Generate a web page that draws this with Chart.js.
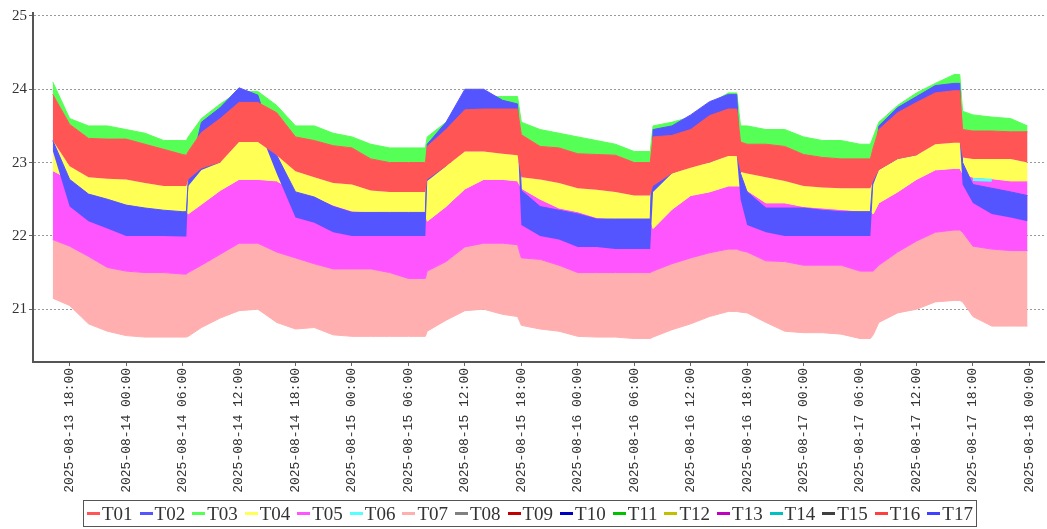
<!DOCTYPE html>
<html>
<head>
<meta charset="utf-8">
<script src="https://cdn.jsdelivr.net/npm/chart.js@4.4.1/dist/chart.umd.min.js"></script>
<style>
  body { margin: 0; background: #fff; }
  #wrap { position: relative; width: 1047px; height: 529px; }
  #legend {
    position: absolute; left: 83px; top: 500px; width: 894px; height: 27px;
    box-sizing: border-box; border: 1px solid #555;
    display: flex; justify-content: space-between; align-items: center;
    padding: 0 3px; font-family: 'Liberation Serif', serif; font-size: 19px; color: #333;
  }
  .item { display: flex; align-items: center; }
  .swatch { display: inline-block; width: 13px; height: 3px; margin-right: 2px; }
</style>
</head>
<body>
<div id="wrap">
  <canvas id="chart"></canvas>
  <div id="legend"></div>
</div>
<script>
// hours counted from 2025-08-13 00:00 (extra points around the heating switches)
const hours = [16.2, 18, 20, 22, 24, 26, 28, 30, 30.4, 30.6,
  32, 34, 36, 38, 40, 42, 44, 46, 48, 50, 52, 54, 55.8,
  56, 58, 60, 62, 64, 65.6,
  66, 68, 70, 72, 74, 76, 78, 79.7,
  80, 82, 84, 86, 88, 88.9, 89.3,
  90, 92, 94, 96, 98, 100, 102, 103.1, 103.4,
  104, 106, 108, 110, 112, 112.6, 112.9,
  114, 116, 118, 119.8];

const xTickHours = [18, 24, 30, 36, 42, 48, 54, 60, 66, 72, 78, 84, 90, 96, 102, 108, 114, 120];
const xTickLabels = ['2025-08-13 18:00', '2025-08-14 00:00', '2025-08-14 06:00', '2025-08-14 12:00',
  '2025-08-14 18:00', '2025-08-15 00:00', '2025-08-15 06:00', '2025-08-15 12:00', '2025-08-15 18:00',
  '2025-08-16 00:00', '2025-08-16 06:00', '2025-08-16 12:00', '2025-08-16 18:00', '2025-08-17 00:00',
  '2025-08-17 06:00', '2025-08-17 12:00', '2025-08-17 18:00', '2025-08-18 00:00'];
const yTicks = [21, 22, 23, 24, 25];

const seriesNames = ['T01', 'T02', 'T03', 'T04', 'T05', 'T06', 'T07', 'T08', 'T09', 'T10',
  'T11', 'T12', 'T13', 'T14', 'T15', 'T16', 'T17'];
const seriesColors = ['#ff5555', '#5555ff', '#55ff55', '#ffff55', '#ff55ff', '#55ffff', '#ffafaf', '#808080', '#c00000', '#0000c0',
  '#00c000', '#c0c000', '#c000c0', '#00c0c0', '#404040', '#ff4040', '#4040ff'];

// each sensor swings fast between a low and a high value, so it shows as a band
const t01Top = [23.93, 23.52, 23.33, 23.32, 23.32, 23.25, 23.18, 23.11, 23.1, 23.15,
  23.41, 23.6, 23.82, 23.82, 23.68, 23.35, 23.3, 23.23, 23.2, 23.05, 23.0, 23.0, 23.0,
  23.22, 23.45, 23.72, 23.73, 23.73, 23.73,
  23.38, 23.22, 23.2, 23.12, 23.11, 23.1, 23.0, 23.0,
  23.35, 23.37, 23.45, 23.64, 23.73, 23.73, 23.28,
  23.25, 23.25, 23.22, 23.11, 23.07, 23.05, 23.05, 23.05, 23.2,
  23.45, 23.68, 23.82, 23.95, 23.98, 23.98, 23.45,
  23.43, 23.43, 23.42, 23.42];
const t01Bottom = [23.3, 22.95, 22.8, 22.78, 22.77, 22.72, 22.68, 22.68, 22.68, 22.77,
  22.92, 23.0, 23.28, 23.28, 23.1, 22.88, 22.8, 22.72, 22.7, 22.62, 22.6, 22.6, 22.6,
  22.77, 22.95, 23.15, 23.15, 23.12, 23.1,
  22.8, 22.77, 22.72, 22.65, 22.63, 22.6, 22.55, 22.55,
  22.68, 22.85, 22.93, 23.0, 23.09, 23.09, 22.87,
  22.85, 22.8, 22.75, 22.68, 22.66, 22.65, 22.65, 22.65, 22.75,
  22.9, 23.05, 23.1, 23.25, 23.27, 23.27, 23.07,
  23.05, 23.05, 23.05, 23.0];
const t02Top = [23.3, 22.77, 22.57, 22.5, 22.42, 22.38, 22.35, 22.33, 22.33, 22.77,
  23.55, 23.75, 24.02, 23.92, 23.1, 22.6, 22.53, 22.4, 22.32, 22.32, 22.32, 22.32, 22.32,
  23.25, 23.55, 24.0, 24.0, 23.85, 23.8,
  22.62, 22.4, 22.35, 22.3, 22.23, 22.23, 22.23, 22.23,
  23.45, 23.5, 23.65, 23.83, 23.93, 23.93, 22.85,
  22.6, 22.38, 22.38, 22.38, 22.35, 22.33, 22.33, 22.33, 22.85,
  23.5, 23.75, 23.9, 24.05, 24.08, 24.08, 23.0,
  22.7, 22.65, 22.6, 22.55];
const t02Bottom = [23.16, 22.4, 22.2, 22.1, 22.0, 22.0, 22.0, 21.99, 21.99, 22.68,
  22.9, 23.0, 23.5, 23.5, 22.85, 22.25, 22.18, 22.05, 22.0, 22.0, 22.0, 22.0, 22.0,
  22.75, 22.95, 23.5, 23.5, 23.4, 23.35,
  22.15, 22.0, 21.95, 21.85, 21.85, 21.82, 21.82, 21.82,
  22.6, 22.85, 22.95, 23.0, 23.1, 23.1, 22.5,
  22.15, 22.05, 22.0, 22.0, 22.0, 22.0, 22.0, 22.0, 22.7,
  22.9, 23.05, 23.1, 23.3, 23.3, 23.3, 22.7,
  22.45, 22.3, 22.25, 22.2];
const t03Top = [24.1, 23.6, 23.5, 23.5, 23.45, 23.4, 23.3, 23.3, 23.3, 23.35,
  23.6, 23.8, 23.97, 23.97, 23.78, 23.5, 23.5, 23.4, 23.35, 23.25, 23.2, 23.2, 23.2,
  23.35, 23.55, 23.85, 23.9, 23.9, 23.9,
  23.55, 23.45, 23.4, 23.35, 23.3, 23.25, 23.15, 23.15,
  23.5, 23.55, 23.62, 23.8, 23.95, 23.95, 23.5,
  23.5, 23.45, 23.45, 23.35, 23.3, 23.3, 23.25, 23.25, 23.35,
  23.55, 23.78, 23.95, 24.08, 24.2, 24.2, 23.7,
  23.65, 23.62, 23.6, 23.5];
const t04Bottom = [22.89, 22.77, 22.57, 22.5, 22.42, 22.38, 22.35, 22.33, 22.33, 22.3,
  22.43, 22.62, 22.77, 22.77, 22.75, 22.6, 22.53, 22.42, 22.34, 22.33, 22.32, 22.32, 22.32,
  22.2, 22.4, 22.64, 22.77, 22.77, 22.75,
  22.65, 22.5, 22.38, 22.33, 22.25, 22.23, 22.23, 22.23,
  22.1, 22.36, 22.55, 22.6, 22.68, 22.68, 22.68,
  22.62, 22.45, 22.45, 22.4, 22.38, 22.36, 22.34, 22.34, 22.3,
  22.45, 22.6, 22.77, 22.9, 22.92, 22.92, 22.85,
  22.8, 22.78, 22.75, 22.75];
const t05Bottom = [21.95, 21.86, 21.72, 21.57, 21.52, 21.5, 21.5, 21.48, 21.48, 21.5,
  21.6, 21.75, 21.9, 21.9, 21.78, 21.7, 21.62, 21.55, 21.55, 21.55, 21.5, 21.42, 21.42,
  21.52, 21.65, 21.85, 21.9, 21.9, 21.88,
  21.7, 21.68, 21.6, 21.5, 21.5, 21.5, 21.5, 21.5,
  21.52, 21.62, 21.7, 21.77, 21.82, 21.82, 21.8,
  21.78, 21.66, 21.65, 21.6, 21.6, 21.6, 21.52, 21.52, 21.52,
  21.6, 21.78, 21.93, 22.05, 22.08, 22.08, 22.05,
  21.86, 21.82, 21.8, 21.8];
const t06Hours = [114, 116];
const t06Values = [22.77, 22.76];
const t07Bottom = [21.15, 21.05, 20.8, 20.7, 20.64, 20.62, 20.62, 20.62, 20.62, 20.63,
  20.75, 20.88, 20.98, 21.0, 20.82, 20.73, 20.75, 20.65, 20.63, 20.63, 20.63, 20.63, 20.63,
  20.7, 20.85, 20.98, 21.0, 20.93, 20.9,
  20.78, 20.73, 20.7, 20.63, 20.62, 20.62, 20.6, 20.6,
  20.62, 20.72, 20.8, 20.9, 20.97, 20.97, 20.96,
  20.95, 20.82, 20.7, 20.68, 20.68, 20.66, 20.6, 20.6, 20.65,
  20.82, 20.95, 21.0, 21.1, 21.12, 21.12, 21.1,
  20.9, 20.77, 20.77, 20.77];

const pts = (arr, xs = hours) => arr.map((v, i) => ({ x: xs[i], y: v }));

const datasets = seriesNames.map((name, i) => ({
  label: name,
  data: [],
  borderColor: seriesColors[i],
  backgroundColor: seriesColors[i],
  borderWidth: 1,
  pointRadius: 0,
  fill: false
}));

// index 17 and 18 are the lower edges of T01 and T02
datasets[0].data = pts(t01Top); datasets[0].fill = 17;
datasets[1].data = pts(t02Top); datasets[1].fill = 18;
datasets[2].data = pts(t03Top); datasets[2].fill = 0;
datasets[3].data = pts(t04Bottom); datasets[3].fill = 17;
datasets[4].data = pts(t05Bottom); datasets[4].fill = 3;
datasets[5].data = pts(t06Values, t06Hours); datasets[5].borderWidth = 3; datasets[5].order = -1;
datasets[6].data = pts(t07Bottom); datasets[6].fill = 4;
datasets.push({ label: 'T01 low', data: pts(t01Bottom), borderWidth: 0, pointRadius: 0, fill: false });
datasets.push({ label: 'T02 low', data: pts(t02Bottom), borderWidth: 0, pointRadius: 0, fill: false });

const ctx = document.getElementById('chart').getContext('2d');
new Chart(ctx, {
  type: 'line',
  data: { datasets: datasets },
  options: {
    responsive: true,
    maintainAspectRatio: false,
    animation: false,
    layout: { padding: { top: 13, left: 0, right: 0, bottom: 0 } },
    plugins: {
      legend: { display: false },
      tooltip: { enabled: false }
    },
    scales: {
      x: {
        type: 'linear',
        min: 14.1,
        max: 121.6,
        afterBuildTicks: axis => { axis.ticks = xTickHours.map(v => ({ value: v })); },
        afterFit: axis => { axis.height = 167; },
        grid: { drawOnChartArea: false, drawTicks: true, tickLength: 4, tickColor: '#666' },
        border: { color: '#555', width: 2 },
        ticks: {
          autoSkip: false,
          maxRotation: 90,
          minRotation: 90,
          padding: 2,
          color: '#333',
          font: { family: 'Liberation Mono', size: 13 },
          callback: (v, i) => xTickLabels[i]
        }
      },
      y: {
        min: 20.28,
        max: 25.04,
        afterBuildTicks: axis => { axis.ticks = yTicks.map(v => ({ value: v })); },
        afterFit: axis => { axis.width = 33; },
        grid: { color: '#999', lineWidth: 1, tickLength: 4, tickColor: '#666', tickBorderDash: [] },
        border: { color: '#555', width: 2, dash: [2, 2] },
        ticks: {
          padding: 2,
          color: '#333',
          font: { family: 'Liberation Serif', size: 15 },
          callback: v => String(v)
        }
      }
    }
  }
});

// legend as html below the plot
const legendBox = document.getElementById('legend');
seriesNames.forEach((name, i) => {
  const item = document.createElement('span');
  item.className = 'item';
  const sw = document.createElement('span');
  sw.className = 'swatch';
  sw.style.background = seriesColors[i];
  item.appendChild(sw);
  item.appendChild(document.createTextNode(name));
  legendBox.appendChild(item);
});
</script>
</body>
</html>
